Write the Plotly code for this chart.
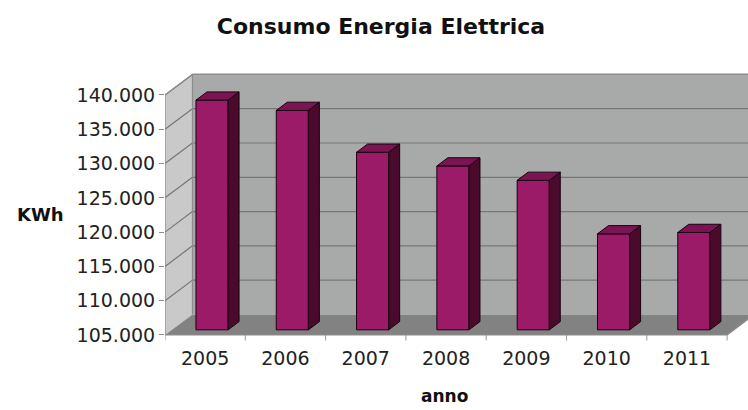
import plotly.graph_objects as go

# Annual electricity consumption (KWh)
years = ["2005", "2006", "2007", "2008", "2009", "2010", "2011"]
consumo_kwh = [138500, 137000, 130900, 128900, 126800, 119000, 119200]
y_ticks = [105000, 110000, 115000, 120000, 125000, 130000, 135000, 140000]

BASE = y_ticks[0]
TOP = y_ticks[-1]
N = len(years)

# Oblique projection of the depth axis, in data units (category units, KWh)
DX = 0.342
DY = 3000
BAR_W = 0.40
F0, F1 = 0.25, 0.65          # bar front / back position along the depth

FONT = "DejaVu Sans"
C_FRONT = "#9c1b68"
C_SIDE = "#4a0a2c"
C_TOP = "#7b1452"
C_BACK = "#a8aaaa"
C_LEFT = "#c9c9c9"
C_FLOOR = "#828282"
C_GRID = "#767676"

fig = go.Figure()


def poly(xs, ys, fill, line="rgba(0,0,0,0)", width=1):
    fig.add_trace(go.Scatter(
        x=list(xs) + [xs[0]], y=list(ys) + [ys[0]], mode="lines",
        fill="toself", fillcolor=fill, line=dict(color=line, width=width),
        hoverinfo="skip", showlegend=False))


def lines(segments, color, width=1):
    xs, ys = [], []
    for (xa, ya), (xb, yb) in segments:
        xs += [xa, xb, None]
        ys += [ya, yb, None]
    fig.add_trace(go.Scatter(x=xs, y=ys, mode="lines",
                             line=dict(color=color, width=width),
                             hoverinfo="skip", showlegend=False))


# walls and floor
poly([0, 0, DX, DX], [BASE, TOP, TOP + DY, BASE + DY], C_LEFT)
poly([DX, DX, N + 2, N + 2], [BASE + DY, TOP + DY, TOP + DY, BASE + DY], C_BACK)
poly([0, N, N + DX, DX], [BASE, BASE, BASE + DY, BASE + DY], C_FLOOR)

# gridlines on the back wall and the side wall
grid = []
for v in y_ticks[1:]:
    grid.append(((0, v), (DX, v + DY)))
    grid.append(((DX, v + DY), (N + 2, v + DY)))
lines(grid, C_GRID, 1.2)

# outlines of the box
lines([((0, BASE), (0, TOP)), ((0, TOP), (DX, TOP + DY)),
       ((DX, TOP + DY), (N + 2, TOP + DY)), ((DX, BASE + DY), (DX, TOP + DY)),
       ((0, BASE), (N, BASE)), ((N, BASE), (N + DX, BASE + DY))],
      "#8c8c8c", 1.2)

# category tick marks under the floor
lines([((i, BASE), (i, BASE - 800)) for i in range(N + 1)], "#9a9a9a", 1)

# 3D bars
dx = (F1 - F0) * DX
dy = (F1 - F0) * DY
for i, v in enumerate(consumo_kwh):
    x0 = i + 0.5 - BAR_W / 2 + F0 * DX
    x1 = x0 + BAR_W
    b0 = BASE + F0 * DY
    t0 = v + F0 * DY
    poly([x0, x1, x1, x0], [b0, b0, t0, t0], C_FRONT, "#1a0010", 1)
    poly([x1, x1 + dx, x1 + dx, x1], [b0, b0 + dy, t0 + dy, t0], C_SIDE, "#1a0010", 1)
    poly([x0, x1, x1 + dx, x0 + dx], [t0, t0, t0 + dy, t0 + dy], C_TOP, "#1a0010", 1)

fig.update_layout(
    width=748, height=410,
    margin=dict(l=165, r=0, t=64, b=65),
    paper_bgcolor="white", plot_bgcolor="white",
    separators=",.",
    font=dict(family=FONT, color="#222222"),
    title=dict(text="Consumo Energia Elettrica", x=381 / 748, xanchor="center",
               y=1 - 26 / 410, yanchor="middle",
               font=dict(family=FONT, size=22, weight="bold", color="#111111")),
    xaxis=dict(range=[0, 7.26], tickvals=[i + 0.5 for i in range(N)],
               ticktext=years, ticks="", ticklabelstandoff=0,
               showgrid=False, zeroline=False,
               showline=False, tickfont=dict(family=FONT, size=19, color="#222222")),
    yaxis=dict(range=[103540, 144520], tickvals=y_ticks, tickformat=",d",
               ticks="outside", ticklen=5, tickcolor="#8c8c8c",
               showgrid=False, zeroline=False, showline=False,
               tickfont=dict(family=FONT, size=19, color="#222222")),
    annotations=[
        dict(text="KWh", xref="paper", yref="paper", x=(40 - 165) / 583,
             y=(345 - 215) / 281, xanchor="center", yanchor="middle",
             showarrow=False, font=dict(family=FONT, size=18, weight="bold", color="#111111")),
        dict(text="anno", xref="paper", yref="paper", x=(444 - 165) / 583,
             y=(345 - 396) / 281, xanchor="center", yanchor="middle",
             showarrow=False, borderpad=0,
             font=dict(family=FONT, size=17, weight="bold", color="#111111")),
    ],
)

fig.write_html("out.html")
